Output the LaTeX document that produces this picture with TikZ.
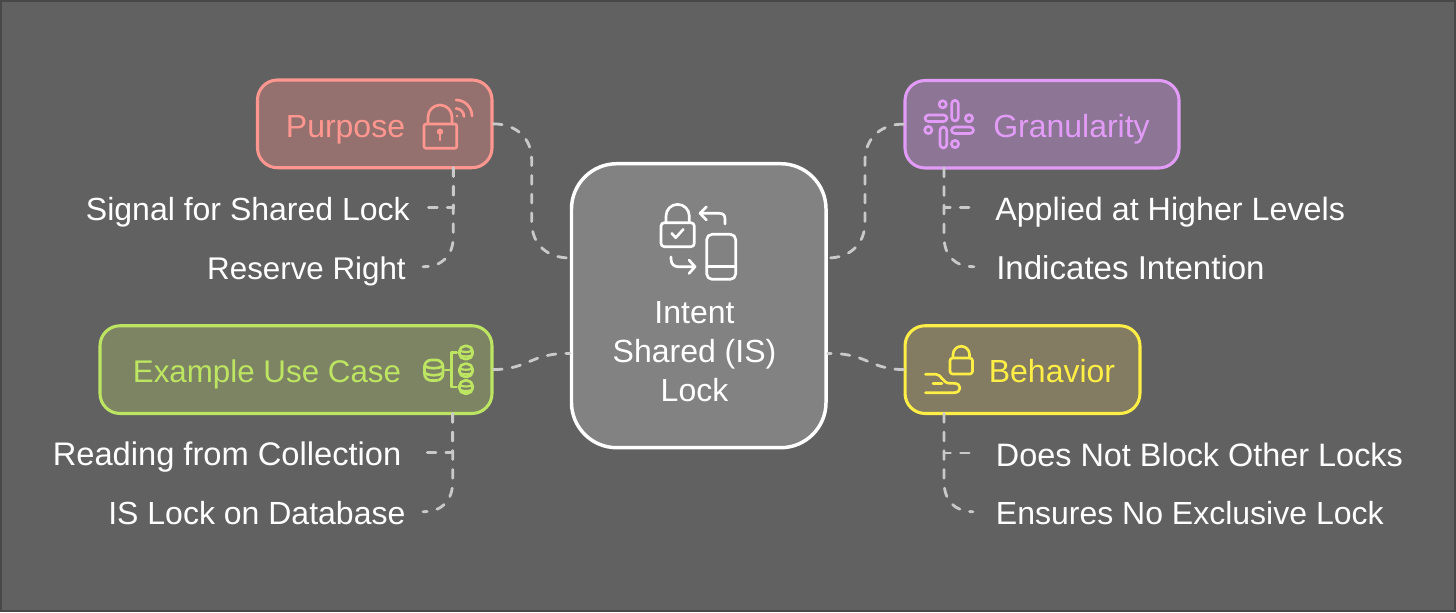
\documentclass[tikz,border=0pt]{standalone}
\usepackage{fontspec}
\setmainfont{Liberation Sans}
\usepackage{tikz}
\usetikzlibrary{calc}
\definecolor{bgc}{HTML}{616161}
\definecolor{framec}{HTML}{484848}
\definecolor{linkc}{HTML}{C9C9C9}
\definecolor{hubc}{HTML}{828282}
\definecolor{redc}{HTML}{FF968F}
\definecolor{redf}{HTML}{94716E}
\definecolor{purc}{HTML}{E29CF7}
\definecolor{purf}{HTML}{8D7595}
\definecolor{grnc}{HTML}{BDE561}
\definecolor{grnf}{HTML}{7C8464}
\definecolor{yelc}{HTML}{FFEE45}
\definecolor{yelf}{HTML}{837C62}
\tikzset{
  fsize/.style={font=\fontsize{#1}{29.25}\selectfont},
  txt/.style={fsize=24, inner xsep=0pt, inner ysep=0pt, text height=18pt, text depth=0pt},
  leaf/.style={txt, text=white, text height=19.5pt},
  box/.style 2 args={draw=#1, fill=#2, line width=2.3pt, rounded corners=15pt, inner sep=0pt},
  link/.style={draw=linkc, line width=2.1pt, line cap=round, dash pattern=on 6.5pt off 7.5pt},
  icon/.style={line width=2pt, line cap=round, line join=round},
}
\begin{document}
\begin{tikzpicture}[x=0.75pt, y=-0.75pt]
  \useasboundingbox (0,0) rectangle (1456,612);
  \fill[bgc] (0,0) rectangle (1456,612);
  \draw[framec, line width=1.5pt] (1,1) rectangle (1455,611);

  % boxes
  \node[box={redc}{redf}, minimum width=175.9pt, minimum height=65.8pt] (purpose) at (374.75,123.85) {};
  \node[box={purc}{purf}, minimum width=205.5pt, minimum height=65.6pt] (granularity) at (1042,124.25) {};
  \node[box={grnc}{grnf}, minimum width=294pt, minimum height=65.8pt] (example) at (296,369.6) {};
  \node[box={yelc}{yelf}, minimum width=176.2pt, minimum height=65.8pt] (behavior) at (1022.5,369.6) {};
  \node[draw=white, fill=hubc, line width=2.6pt, rounded corners=34pt, inner sep=0pt, minimum width=190.9pt, minimum height=213pt] (center) at (698.75,305.7) {};

  % box texts
  \node[txt, text=redc] (purposetext) at (345.5,125) {Purpose};
  \node[txt, text=purc] (granularitytext) at (1071.5,125) {Granularity};
  \node[txt, fsize=23.5, text=grnc] (exampletext) at (267,370.7) {Example Use Case};
  \node[txt, text=yelc] (behaviortext) at (1052,370.7) {Behavior};
  \node[txt, text=white, align=center, text height=, text depth=] (centertext) at (694.5,352) {Intent\\Shared (IS)\\Lock};

  % leaves
  \node[leaf, anchor=east, inner xsep=10.5pt] (signal) at (424,207.7) {Signal for Shared Lock};
  \node[leaf, fsize=23.5, anchor=east, inner xsep=12.75pt] (reserve) at (423,266.7) {Reserve Right};
  \node[leaf, fsize=24.2, anchor=west, inner xsep=16.5pt] (applied) at (973,207.7) {Applied at Higher Levels};
  \node[leaf, fsize=24.8, anchor=west, inner xsep=16.5pt] (indicates) at (974,266.7) {Indicates Intention};
  \node[leaf, fsize=24.5, anchor=east, inner xsep=16pt] (reading) at (423,452.7) {Reading from Collection};
  \node[leaf, anchor=east, inner xsep=13pt] (islock) at (423,511.7) {IS Lock on Database};
  \node[leaf, fsize=24.3, anchor=west, inner xsep=17pt] (blocks) at (973,453) {Does Not Block Other Locks};
  \node[leaf, anchor=west, inner xsep=17pt] (ensures) at (973,511.7) {Ensures No Exclusive Lock};

  % ports under the boxes
  \coordinate (purposeport) at (453.3,167.7);
  \coordinate (granularityport) at (944,168);
  \coordinate (exampleport) at (452.7,413.5);
  \coordinate (behaviorport) at (944,413.5);

  % connectors to the center
  \draw[link] (purpose.east) .. controls (515,124) and (531.7,137) .. (531.7,160) -- (531.7,222) .. controls (531.7,245) and (548,258) .. ([yshift=35.8pt]center.west);
  \draw[link] (granularity.west) .. controls (883,123.5) and (865,137) .. (865,160) -- (865,222) .. controls (865,245) and (849,258) .. ([yshift=35.8pt]center.east);
  \draw[link] (example.east) .. controls (530,369) and (530,353) .. ([yshift=-35.8pt]center.west);
  \draw[link] (behavior.west) .. controls (868,369) and (868,353) .. ([yshift=-35.8pt]center.east);

  % connectors to the leaves
  \draw[link] (purposeport) -- (purposeport |- signal.east) -- (signal.east);
  \draw[link] (purposeport) -- (453.3,236) .. controls (453.3,256) and (442,266.7) .. (reserve.east);
  \draw[link] (granularityport) -- (granularityport |- applied.west) -- (applied.west);
  \draw[link] (granularityport) -- (944,236) .. controls (944,256) and (955,266.7) .. (indicates.west);
  \draw[link] (exampleport) -- (exampleport |- reading.east) -- (reading.east);
  \draw[link] (exampleport) -- (452.7,481) .. controls (452.7,501) and (442,511.7) .. (islock.east);
  \draw[link] (behaviorport) -- (behaviorport |- blocks.west) -- (blocks.west);
  \draw[link] (behaviorport) -- (944,481) .. controls (944,501) and (955,511.7) .. (ensures.west);

  % lock with signal
  \draw[icon, redc, rounded corners=1.5pt] (424,124) rectangle (456.7,148.3);
  \draw[icon, redc] (428,124) -- (428,117) arc[start angle=180, end angle=360, radius=12] -- (452,124);
  \fill[redc] (440,131.7) circle (3.2);
  \draw[icon, redc] (440,132) -- (440,140);
  \fill[redc] (457,116) circle (1.3);
  \draw[icon, redc] (456,108.5) arc[start angle=-90, end angle=0, radius=8];
  \draw[icon, redc] (456,100) arc[start angle=-90, end angle=0, radius=16];

  % hub icon
  \draw[icon, white, rounded corners=2.5pt] (661,222.7) rectangle (694.3,246.7);
  \draw[icon, white] (666,222.7) -- (666,216) arc[start angle=180, end angle=360, radius=11.65] -- (689.3,222.7);
  \draw[icon, white] (671.7,233.3) -- (675.7,237.7) -- (683.3,229.3);
  \draw[icon, white, rounded corners=4pt] (706.7,234.3) rectangle (735.7,279.3);
  \draw[icon, white] (706.7,266.7) -- (735.7,266.7);
  \draw[icon, white] (725,224) -- (725,219) .. controls (725,215) and (723,213.3) .. (719,213.3) -- (700,213.3);
  \draw[icon, white] (706.5,206.7) -- (700,213.3) -- (706.5,220);
  \draw[icon, white] (671,257) -- (671,259) .. controls (671,264) and (674,266.7) .. (678,266.7) -- (695,266.7);
  \draw[icon, white] (689,260) -- (695,266.7) -- (689,273.5);

  % four bars icon
  \foreach \cx/\cy in {942.7/104.3, 969/118.3, 928.3/130, 955/144}
    \draw[icon, purc] (\cx,\cy) circle (3.6);
  \draw[icon, purc, rounded corners=2.6pt] (951.7,100.3) rectangle (958.3,121);
  \draw[icon, purc, rounded corners=2.6pt] (925,115) rectangle (947,121.5);
  \draw[icon, purc, rounded corners=2.6pt] (940,127) rectangle (946.7,148);
  \draw[icon, purc, rounded corners=2.6pt] (951.5,127) rectangle (973.5,133.5);

  % cylinders icon
  \draw[icon, grnc, rounded corners=5pt] (424.5,360) rectangle (443,380.5);
  \draw[icon, grnc] (424.5,366) .. controls (429,369) and (438.5,369) .. (443,366);
  \draw[icon, grnc] (424.5,373) .. controls (429,376) and (438.5,376) .. (443,373);
  \draw[icon, grnc] (445,370) -- (451.5,370);
  \draw[icon, grnc] (456.7,352.5) -- (451.5,352.5) -- (451.5,387) -- (456.7,387);
  \foreach \cy in {352.5, 370.3, 387}
  {
    \draw[icon, grnc, rounded corners=4pt] (459.5,\cy-6.5) rectangle (472.5,\cy+6.5);
    \draw[icon, grnc, line width=1.6pt] (459.5,\cy-2) .. controls (463,\cy) and (469,\cy) .. (472.5,\cy-2);
    \draw[icon, grnc, line width=1.6pt] (459.5,\cy+2.5) .. controls (463,\cy+4.5) and (469,\cy+4.5) .. (472.5,\cy+2.5);
  }

  % hand and lock icon
  \draw[icon, yelc, rounded corners=2pt] (950,358) rectangle (972.5,374);
  \draw[icon, yelc] (953,358) -- (953,354.5) arc[start angle=180, end angle=360, radius=8.25] -- (969.5,358);
  \draw[icon, yelc] (925.5,374.3) -- (936,374.3) .. controls (942,374.3) and (942,383.3) .. (950,383.3) -- (954,383.3) .. controls (962,383.3) and (962,392.7) .. (954,392.7) -- (925.5,392.7);
  \draw[icon, yelc] (933,383.3) -- (942,383.3);
\end{tikzpicture}
\end{document}
